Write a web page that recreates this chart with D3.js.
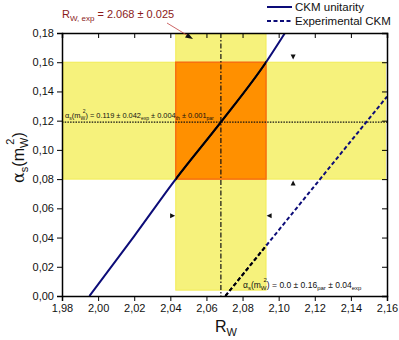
<!DOCTYPE html>
<html><head><meta charset="utf-8">
<script src="https://cdn.jsdelivr.net/npm/d3@7"></script>
<style>body{margin:0;background:#fff}svg{display:block;font-family:"Liberation Sans",Arial,sans-serif}</style>
</head><body><svg id="c" width="399" height="340"></svg>
<script>
const xDomain = [1.98, 2.16];
const yDomain = [0.0, 0.18];
const xTicks = [1.98, 2.00, 2.02, 2.04, 2.06, 2.08, 2.10, 2.12, 2.14, 2.16];
const yTicks = [0.00, 0.02, 0.04, 0.06, 0.08, 0.10, 0.12, 0.14, 0.16, 0.18];
const rwExp = 2.068, rwErr = 0.025;
const asCentral = 0.119, asLow = 0.08, asHigh = 0.16;
const ckmUnitarity = [[1.9952,0],[2.020,0.041],[2.043,0.080],[2.068,0.119],[2.093,0.160],[2.1035,0.18]];
const expCKM = [[2.0705,0],[2.16,0.1365]];
const markers = [
  {x:2.108, y:0.164, dir:"down"},
  {x:2.108, y:0.077, dir:"up"},
  {x:2.095, y:0.055, dir:"left"},
  {x:2.041, y:0.055, dir:"right"}
];
const legendItems = [{label:"CKM unitarity", dash:null},{label:"Experimental CKM", dash:"4,2.5"}];

const svg = d3.select("#c");
const m = {l:62, t:33, r:12, b:44};
const W = 399, H = 340;
const x = d3.scaleLinear().domain(xDomain).range([m.l, W - m.r]);
const y = d3.scaleLinear().domain(yDomain).range([H - m.b, m.t]);
const fmt = d => d3.format(".2f")(d).replace(".", ",");

const defs = svg.append("defs");
defs.append("clipPath").attr("id","band")
  .append("rect").attr("x", x(rwExp-rwErr)).attr("y", m.t).attr("width", x(rwExp+rwErr)-x(rwExp-rwErr)).attr("height", H-m.b-m.t);
defs.append("clipPath").attr("id","plot")
  .append("rect").attr("x", m.l).attr("y", m.t).attr("width", W-m.l-m.r).attr("height", H-m.b-m.t);

const yellow = "#f6f27c", yellowEdge = "#f2ec55";
svg.append("rect").attr("x", x(xDomain[0])+1).attr("y", y(asHigh)).attr("width", x(2.159)-x(xDomain[0])-1)
  .attr("height", y(asLow)-y(asHigh)).attr("fill", yellow).attr("stroke", yellowEdge).attr("stroke-width",1);
svg.append("rect").attr("x", x(rwExp-rwErr)).attr("y", y(0.1795)).attr("width", x(rwExp+rwErr)-x(rwExp-rwErr))
  .attr("height", y(0.004)-y(0.1795)).attr("fill", yellow).attr("stroke", yellowEdge).attr("stroke-width",1);
svg.append("rect").attr("x", x(rwExp-rwErr)).attr("y", y(asHigh)).attr("width", x(rwExp+rwErr)-x(rwExp-rwErr))
  .attr("height", y(asLow)-y(asHigh)).attr("fill", "#ff9000").attr("stroke", "#f77010").attr("stroke-width",1.5);

svg.append("line").attr("x1", x(rwExp)).attr("x2", x(rwExp)).attr("y1", y(yDomain[1])).attr("y2", y(0))
  .attr("stroke","#111").attr("stroke-width",1.2).attr("stroke-dasharray","5,2,1.5,2");
svg.append("line").attr("x1", x(xDomain[0])).attr("x2", x(xDomain[1])).attr("y1", y(asCentral)).attr("y2", y(asCentral))
  .attr("stroke","#111").attr("stroke-width",1.3).attr("stroke-dasharray","1.5,1.2");

const line = d3.line().x(d=>x(d[0])).y(d=>y(d[1])).curve(d3.curveMonotoneX);
const navy = "#0c0c78";
const g = svg.append("g").attr("clip-path","url(#plot)");
g.append("path").attr("d", line(ckmUnitarity)).attr("fill","none").attr("stroke",navy).attr("stroke-width",2);
g.append("path").attr("d", line(expCKM)).attr("fill","none").attr("stroke",navy).attr("stroke-width",2).attr("stroke-dasharray","4,2.5");
const gb = svg.append("g").attr("clip-path","url(#band)");
gb.append("path").attr("d", line(ckmUnitarity)).attr("fill","none").attr("stroke","#000").attr("stroke-width",2);
gb.append("path").attr("d", line(expCKM)).attr("fill","none").attr("stroke","#000").attr("stroke-width",2).attr("stroke-dasharray","4,2.5");

const tri = {down:"M-2.5,-2L2.5,-2L0,3Z", up:"M-2.5,2L2.5,2L0,-3Z", left:"M2,-2.5L2,2.5L-3,0Z", right:"M-2,-2.5L-2,2.5L3,0Z"};
svg.selectAll(".mk").data(markers).join("path").attr("class","mk")
  .attr("transform", d=>`translate(${x(d.x)},${y(d.y)})`).attr("d", d=>tri[d.dir]).attr("fill","#111");

const minorX = d3.range(1.98, 2.1601, 0.01), minorY = d3.range(0, 0.1801, 0.01);
const gBottom = svg.append("g").attr("transform",`translate(0,${H-m.b})`);
gBottom.call(d3.axisBottom(x).tickValues(minorX).tickSize(3).tickFormat(""));
gBottom.call(d3.axisBottom(x).tickValues(xTicks).tickSize(5).tickPadding(3).tickFormat(fmt));
const gLeft = svg.append("g").attr("transform",`translate(${m.l},0)`);
gLeft.call(d3.axisLeft(y).tickValues(minorY).tickSize(3).tickFormat(""));
gLeft.call(d3.axisLeft(y).tickValues(yTicks).tickSize(5).tickPadding(3).tickFormat(fmt));
const gTop = svg.append("g").attr("transform",`translate(0,${m.t})`);
gTop.call(d3.axisBottom(x).tickValues(minorX).tickSize(3).tickFormat(""));
gTop.call(d3.axisBottom(x).tickValues(xTicks).tickSize(5).tickFormat(""));
const gRight = svg.append("g").attr("transform",`translate(${W-m.r},0)`);
gRight.call(d3.axisLeft(y).tickValues(minorY).tickSize(3).tickFormat(""));
gRight.call(d3.axisLeft(y).tickValues(yTicks).tickSize(5).tickFormat(""));
svg.selectAll(".domain").attr("stroke","#000").attr("stroke-width",1.5);
svg.selectAll(".tick line").attr("stroke","#000").attr("stroke-width",1);
svg.selectAll(".tick text").attr("font-size","11px").attr("fill","#111").attr("font-family","Liberation Sans, Arial, sans-serif");

const xt = svg.append("text").attr("x", 215).attr("y", 332).attr("font-size","16px").attr("fill","#111");
xt.append("tspan").text("R");
xt.append("tspan").attr("font-size","11px").attr("dy",4).text("W");
const yt = svg.append("text").attr("transform","translate(24,183) rotate(-90)").attr("font-size","16px").attr("fill","#111");
yt.append("tspan").attr("font-family","DejaVu Serif, serif").text("α");
yt.append("tspan").attr("font-size","11px").attr("dy",4).text("s");
yt.append("tspan").attr("dy",-4).text("(m");
yt.append("tspan").attr("font-size","11px").attr("dy",4).text("W");
yt.append("tspan").attr("font-size","11px").attr("dx",-7).attr("dy",-14).text("2");
yt.append("tspan").attr("dy",10).attr("dx",1).text(")");

const lab = svg.append("text").attr("x", 62).attr("y", 18).attr("font-size","11px").attr("fill","#8b1a1a");
lab.append("tspan").text("R");
lab.append("tspan").attr("font-size","8px").attr("dy",3).text("W, exp");
lab.append("tspan").attr("dy",-3).text(" = 2.068 ± 0.025");
svg.append("line").attr("x1",167).attr("y1",23).attr("x2",190).attr("y2",37).attr("stroke","#c04040").attr("stroke-width",0.8);
svg.append("path").attr("d","M193,39L185,37.5L188,33Z").attr("fill","#111");

const t1 = svg.append("text").attr("x", 65).attr("y", y(asCentral)-4).attr("font-size","7.4px").attr("fill","#111");
t1.append("tspan").text("α");
t1.append("tspan").attr("font-size","5px").attr("dy",1.5).text("s");
t1.append("tspan").attr("dy",-1.5).text("(m");
t1.append("tspan").attr("font-size","5px").attr("dy",1.5).text("W");
t1.append("tspan").attr("font-size","5px").attr("dx",-2.5).attr("dy",-6.5).text("2");
t1.append("tspan").attr("dy",5).text(") = 0.119 ± 0.042");
t1.append("tspan").attr("font-size","5px").attr("dy",1.5).text("exp");
t1.append("tspan").attr("dy",-1.5).text(" ± 0.004");
t1.append("tspan").attr("font-size","5px").attr("dy",1.5).text("th");
t1.append("tspan").attr("dy",-1.5).text(" ± 0.001");
t1.append("tspan").attr("font-size","5px").attr("dy",1.5).text("par");

const t2 = svg.append("text").attr("x", 243).attr("y", 288).attr("font-size","8.5px").attr("fill","#111");
t2.append("tspan").text("α");
t2.append("tspan").attr("font-size","6px").attr("dy",2).text("s");
t2.append("tspan").attr("dy",-2).text("(m");
t2.append("tspan").attr("font-size","6px").attr("dy",2).text("W");
t2.append("tspan").attr("font-size","6px").attr("dx",-3).attr("dy",-8).text("2");
t2.append("tspan").attr("dy",6).text(") = 0.0 ± 0.16");
t2.append("tspan").attr("font-size","6px").attr("dy",2).text("par");
t2.append("tspan").attr("dy",-2).text(" ± 0.04");
t2.append("tspan").attr("font-size","6px").attr("dy",2).text("exp");

const lg = svg.selectAll(".lg").data(legendItems).join("g").attr("class","lg")
  .attr("transform",(d,i)=>`translate(267,${7+i*14})`);
lg.append("line").attr("x1",0).attr("x2",25).attr("stroke",navy).attr("stroke-width",2)
  .attr("stroke-dasharray",d=>d.dash);
lg.append("text").attr("x",28).attr("y",4).attr("font-size","11.5px").attr("fill","#111").text(d=>d.label);
</script></body></html>
